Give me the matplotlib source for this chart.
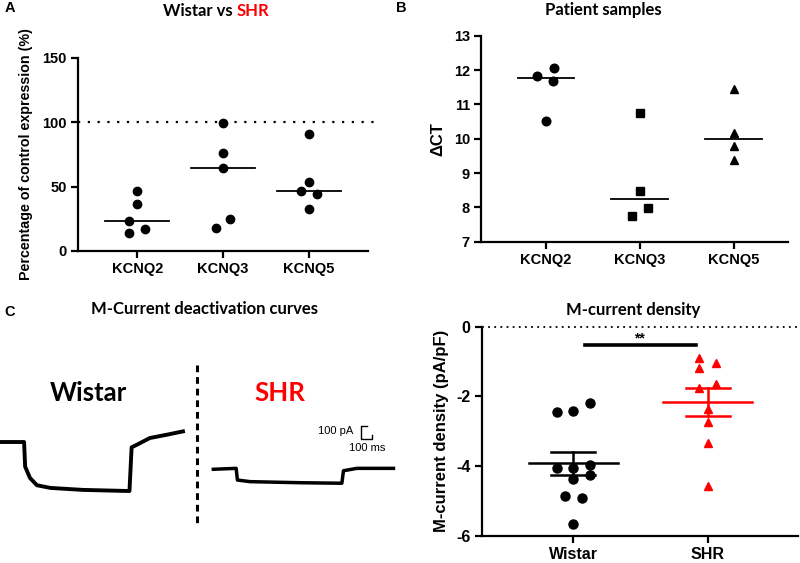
import numpy as np
import matplotlib
matplotlib.use("Agg")
import matplotlib.pyplot as plt

plt.rcParams["axes.unicode_minus"] = False

# ---------------- data ----------------
genes = ["KCNQ2", "KCNQ3", "KCNQ5"]
# Panel A: Wistar vs SHR, percentage of control expression
a_kcnq2 = [46.3, 36.9, 23.1, 14.3, 17.4]
a_kcnq3 = [99.3, 75.9, 64.7, 18.2, 24.7]
a_kcnq5 = [90.7, 53.8, 46.8, 44.2, 33.0]
a_yticks = [0, 50, 100, 150]
# Panel B: patient samples, delta CT
b_kcnq2 = [11.83, 12.05, 11.69, 10.52]
b_kcnq3 = [10.74, 8.49, 7.99, 7.76]
b_kcnq5 = [11.44, 10.17, 9.80, 9.37]
b_yticks = [7, 8, 9, 10, 11, 12, 13]
# Panel D: M-current density (pA/pF)
groups = ["Wistar", "SHR"]
d_wistar = [-2.45, -2.41, -2.20, -4.04, -4.04, -3.96, -4.25, -4.37, -4.85, -4.90, -5.66]
d_shr = [-0.89, -1.17, -1.03, -1.77, -1.65, -2.36, -2.72, -3.32, -4.57]
d_yticks = [0, -2, -4, -6]
# Panel C: deactivation traces (time ms, current pA)
wistar_t = [0, 225, 235, 280, 345, 470, 775, 1185, 1210, 1230, 1280, 1400, 1560, 1710]
wistar_i = [60, 60, -125, -210, -265, -285, -300, -308, -308, 20, 40, 90, 115, 140]
shr_t = [1994, 2207, 2219, 2338, 2805, 3195, 3210, 3335, 3677]
shr_i = [-145, -138, -226, -238, -246, -250, -156, -138, -138]

# ---------------- layout helpers ----------------
W, H = 800, 563
fig = plt.figure(figsize=(8, 5.63), dpi=100)
RED = "#ff0000"
TICKFONT = "Liberation Sans"
TITLEFONT = "Lato"

def P(x, y):
    return x / W, 1 - y / H

def axes_px(l, t, r, b):
    return fig.add_axes([l / W, 1 - b / H, (r - l) / W, (b - t) / H])

def style(ax, fs):
    for s in ("top", "right"):
        ax.spines[s].set_visible(False)
    for s in ("left", "bottom"):
        ax.spines[s].set_linewidth(1.6)
    ax.tick_params(direction="out", length=5, width=1.6, labelsize=fs, pad=3)
    for lab in ax.get_xticklabels() + ax.get_yticklabels():
        lab.set_fontfamily(TICKFONT)
        lab.set_fontweight("bold")

# ---------------- Panel A ----------------
axA = axes_px(78, 58, 368, 251)
a_jit = [[0, 0, -0.095, -0.095, 0.09], [0, 0, 0, -0.08, 0.085], [0, 0, -0.09, 0.09, 0]]
for i, vals in enumerate([a_kcnq2, a_kcnq3, a_kcnq5]):
    xs = [i + j for j in a_jit[i]]
    axA.plot(xs, vals, "o", color="black", ms=6, ls="none", clip_on=False, zorder=3)
    m = np.median(vals)
    axA.plot([i - 0.37, i + 0.37], [m, m], color="black", lw=1.3)
axA.plot([-0.69, 2.8], [100, 100], color="black", lw=1.6, ls=(0, (1, 3.4)), clip_on=False)
axA.set_xlim(-0.69, 2.69)
axA.set_ylim(0, 150)
axA.set_yticks(a_yticks)
axA.set_xticks(range(3))
axA.set_xticklabels(genes)
style(axA, 10.5)
axA.set_ylabel("Percentage of control expression (%)", fontfamily=TICKFONT,
               fontweight="bold", fontsize=10.3, labelpad=7)

# ---------------- Panel B ----------------
axB = axes_px(481, 35.7, 788, 241.7)
b_jit = [[-0.096, 0.089, 0.082, 0], [0, 0, 0.085, -0.085], [0, 0, 0, 0]]
b_mark = ["o", "s", "^"]
for i, vals in enumerate([b_kcnq2, b_kcnq3, b_kcnq5]):
    xs = [i + j for j in b_jit[i]]
    axB.plot(xs, vals, b_mark[i], color="black", ms=6.2 if i != 1 else 5.6, ls="none", zorder=3)
    m = np.median(vals)
    axB.plot([i - 0.3, i + 0.3], [m, m], color="black", lw=1.3)
axB.set_xlim(-0.69, 2.58)
axB.set_ylim(7, 13)
axB.set_yticks(b_yticks)
axB.set_xticks(range(3))
axB.set_xticklabels(genes)
style(axB, 10.5)
axB.set_ylabel("ΔCT", fontfamily=TICKFONT, fontweight="bold", fontsize=12, labelpad=6)

# ---------------- Panel D ----------------
axD = axes_px(481.7, 326.7, 798, 536)
w_jit = [-0.123, 0, 0.123, -0.123, 0, 0.123, 0.123, 0, -0.062, 0.062, 0]
s_jit = [-0.062, -0.062, 0.062, -0.062, 0.062, 0, 0, 0, 0]
axD.plot([0 + j for j in w_jit], d_wistar, "o", color="black", ms=6.5, ls="none", zorder=3)
axD.plot([1 + j for j in s_jit], d_shr, "^", color=RED, ms=6.3, ls="none", zorder=3)
for i, (vals, col) in enumerate([(d_wistar, "black"), (d_shr, RED)]):
    v = np.array(vals)
    mean = v.mean()
    sem = v.std(ddof=1) / np.sqrt(len(v))
    axD.plot([i - 0.33, i + 0.33], [mean, mean], color=col, lw=1.8, zorder=4)
    axD.plot([i - 0.165, i + 0.165], [mean + sem] * 2, color=col, lw=1.8, zorder=4)
    axD.plot([i - 0.165, i + 0.165], [mean - sem] * 2, color=col, lw=1.8, zorder=4)
    axD.plot([i, i], [mean - sem, mean + sem], color=col, lw=1.8, zorder=4)
axD.plot([0.09, 0.91], [-0.53, -0.53], color="black", lw=2.6)
axD.text(0.49, -0.33, "**", ha="center", va="center", fontsize=10, fontweight="bold",
         fontfamily=TICKFONT)
axD.plot([-0.68, 1.67], [0, 0], color="black", lw=1.3, ls=(0, (1, 2.4)), clip_on=False)
axD.set_xlim(-0.68, 1.67)
axD.set_ylim(-6, 0)
axD.set_yticks(d_yticks)
axD.set_xticks(range(2))
axD.set_xticklabels(groups)
style(axD, 11.5)
axD.set_ylabel("M-current density (pA/pF)", fontfamily=TICKFONT, fontweight="bold",
               fontsize=12, labelpad=5)

# ---------------- Panel C ----------------
MS_PER_PX = 100 / 10.7
PA_PER_PX = 100 / 13.3
axC = fig.add_axes([0, 0, 400 / W, (H - 280) / H])
axC.set_xlim(0, 400 * MS_PER_PX)
axC.set_ylim((450 - 563) * PA_PER_PX, (450 - 280) * PA_PER_PX)
axC.axis("off")
axC.plot(wistar_t, wistar_i, color="black", lw=2.8, solid_joinstyle="round")
axC.plot(shr_t, shr_i, color="black", lw=2.5, solid_joinstyle="round")
# divider
axC.plot([197 * MS_PER_PX] * 2, [(450 - 365) * PA_PER_PX, (450 - 527) * PA_PER_PX],
         color="black", lw=2.2, ls=(0, (2.2, 1.6)))
# scale bar
sx, sy = 361 * MS_PER_PX, (450 - 439) * PA_PER_PX
axC.plot([sx + 55, sx, sx, sx + 100, sx + 100], [sy + 100, sy + 100, sy, sy, sy + 30],
         color="black", lw=1.0)
axC.text(sx - 75, sy + 60, "100 pA", ha="right", va="center", fontsize=8,
         fontfamily="Liberation Sans")
axC.text(sx + 60, sy - 70, "100 ms", ha="center", va="center", fontsize=8,
         fontfamily="Liberation Sans")

# ---------------- texts ----------------
fig.text(*P(233, 11), "Wistar vs", ha="right", va="center", fontsize=12,
         fontweight="bold", fontfamily=TITLEFONT)
fig.text(*P(237, 11), "SHR", ha="left", va="center", fontsize=12, color=RED,
         fontweight="bold", fontfamily=TITLEFONT)
fig.text(*P(603, 9.5), "Patient samples", ha="center", va="center", fontsize=12,
         fontweight="bold", fontfamily=TITLEFONT)
fig.text(*P(205, 309), "M-Current deactivation curves", ha="center", va="center",
         fontsize=12, fontweight="bold", fontfamily=TITLEFONT)
fig.text(*P(633, 310), "M-current density", ha="center", va="center", fontsize=12,
         fontweight="bold", fontfamily=TITLEFONT)
fig.text(*P(88, 393), "Wistar", ha="center", va="center", fontsize=18.5,
         fontweight="bold", fontfamily=TITLEFONT)
fig.text(*P(280, 393), "SHR", ha="center", va="center", fontsize=18.5, color=RED,
         fontweight="bold", fontfamily=TITLEFONT)
for lab, (x, y) in {"A": (10, 8.5), "B": (401, 8.5), "C": (10, 312)}.items():
    fig.text(*P(x, y), lab, ha="center", va="center", fontsize=10.5, fontweight="bold",
             fontfamily=TICKFONT)

fig.savefig("out.png", dpi=100)
